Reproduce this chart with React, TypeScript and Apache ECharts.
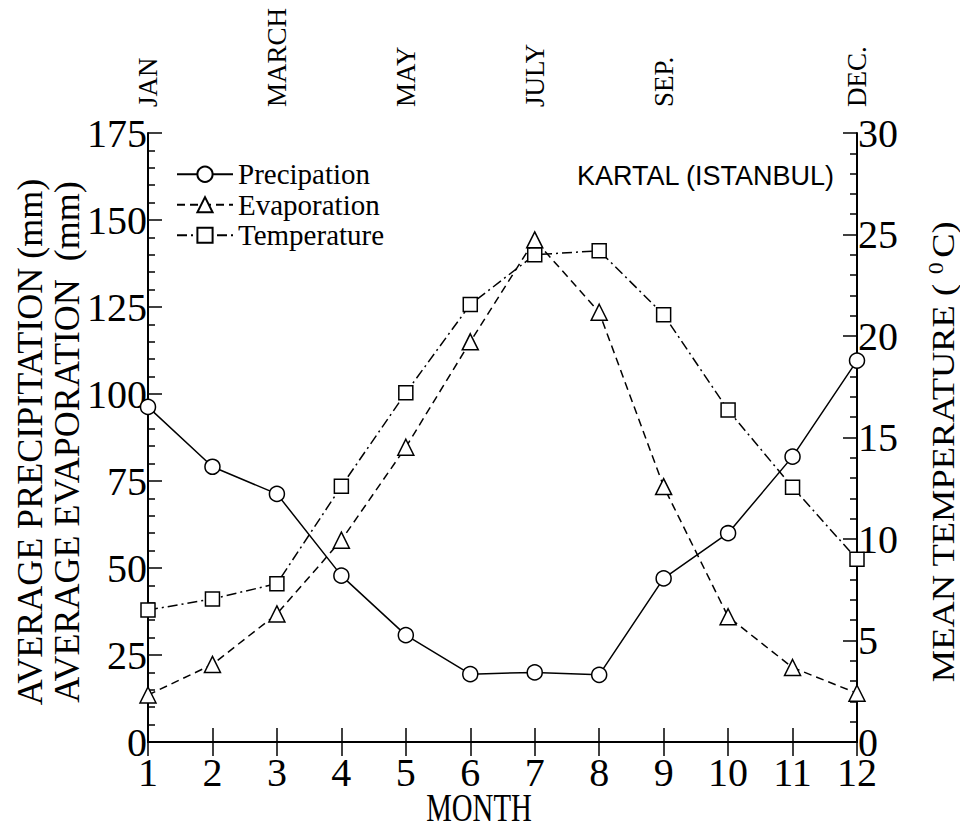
import React, { useEffect, useRef } from "react";
import * as echarts from "echarts";

const months = [1, 2, 3, 4, 5, 6, 7, 8, 9, 10, 11, 12];
const precipitation = [96.3, 79.1, 71.3, 47.8, 30.7, 19.5, 20.0, 19.3, 47.0, 60.0, 82.0, 109.6];
const evaporation = [13.5, 22.3, 36.8, 58.0, 84.7, 115.0, 144.3, 123.5, 73.4, 36.0, 21.4, 14.0];
const temperature = [6.5, 7.05, 7.8, 12.6, 17.2, 21.55, 24.0, 24.2, 21.05, 16.35, 12.55, 9.0];
const topMonthLabels: Record<number, string> = { 1: "JAN", 3: "MARCH", 5: "MAY", 7: "JULY", 9: "SEP.", 12: "DEC." };
const seriesNames = ["Precipation", "Evaporation", "Temperature"];

const SERIF = "'Liberation Serif', 'Times New Roman', serif";
const SANS = "'Liberation Sans', Arial, sans-serif";

export default function App() {
  const ref = useRef<HTMLDivElement>(null);
  useEffect(() => {
    if (!ref.current) return;
    const chart = echarts.init(ref.current, null, { renderer: "svg" });
    const pair = (vals: number[]) => months.map((m, i) => [m, vals[i]]);
    const axisLine = { show: true, lineStyle: { color: "#000", width: 2 } };
    const markerStyle = { color: "#fff", borderColor: "#000", borderWidth: 1.5 };
    chart.setOption({
      animation: false,
      backgroundColor: "#fff",
      grid: { left: 148, right: 103, top: 133, bottom: 90 },
      legend: {
        orient: "vertical",
        left: 171,
        top: 154,
        itemWidth: 56,
        itemHeight: 19,
        itemGap: 0,
        textStyle: { fontFamily: SERIF, fontSize: 29, color: "#000", lineHeight: 30.5 },
        data: seriesNames,
      },
      xAxis: [
        {
          type: "value",
          min: 1,
          max: 12,
          interval: 1,
          position: "bottom",
          axisLine,
          axisTick: { show: true, inside: true, length: 14, lineStyle: { color: "#000", width: 1.5 } },
          axisLabel: { fontFamily: SERIF, fontSize: 40, color: "#000", margin: 10 },
          splitLine: { show: false },
        },
        {
          type: "value",
          min: 1,
          max: 12,
          interval: 1,
          position: "top",
          axisLine,
          axisTick: { show: true, inside: true, length: 14, lineStyle: { color: "#000", width: 1.5 } },
          axisLabel: {
            fontFamily: SERIF,
            fontSize: 27,
            color: "#000",
            rotate: 90,
            margin: 26,
            padding: [0, 0, 0, 0],
            formatter: (v: number) => topMonthLabels[v] || "",
          },
          splitLine: { show: false },
        },
      ],
      yAxis: [
        {
          type: "value",
          min: 0,
          max: 175,
          interval: 25,
          position: "left",
          axisLine,
          axisTick: { show: true, inside: true, length: 14, lineStyle: { color: "#000", width: 1.5 } },
          minorTick: { show: true, splitNumber: 5, length: 7, lineStyle: { color: "#000", width: 1.5 } },
          axisLabel: { fontFamily: SERIF, fontSize: 40, color: "#000", margin: 1 },
          splitLine: { show: false },
        },
        {
          type: "value",
          min: 0,
          max: 30,
          interval: 5,
          position: "right",
          axisLine,
          axisTick: { show: true, inside: true, length: 14, lineStyle: { color: "#000", width: 1.5 } },
          minorTick: { show: true, splitNumber: 5, length: 7, lineStyle: { color: "#000", width: 1.5 } },
          axisLabel: { fontFamily: SERIF, fontSize: 40, color: "#000", margin: 1 },
          splitLine: { show: false },
        },
      ],
      series: [
        {
          name: seriesNames[0],
          type: "line",
          xAxisIndex: 0,
          yAxisIndex: 0,
          data: pair(precipitation),
          symbol: "circle",
          symbolSize: 15,
          clip: false,
          lineStyle: { color: "#000", width: 1.5, type: "solid" },
          itemStyle: markerStyle,
          z: 5,
        },
        {
          name: seriesNames[1],
          type: "line",
          xAxisIndex: 0,
          yAxisIndex: 0,
          data: pair(evaporation),
          symbol: "triangle",
          symbolSize: 16,
          clip: false,
          lineStyle: { color: "#000", width: 1.5, type: [8, 5] },
          itemStyle: markerStyle,
          z: 4,
        },
        {
          name: seriesNames[2],
          type: "line",
          xAxisIndex: 0,
          yAxisIndex: 1,
          data: pair(temperature),
          symbol: "rect",
          symbolSize: 14,
          clip: false,
          lineStyle: { color: "#000", width: 1.5, type: [10, 4, 2, 4] },
          itemStyle: markerStyle,
          z: 3,
        },
      ],
      graphic: [
        {
          type: "text",
          x: 30,
          y: 442,
          rotation: Math.PI / 2,
          style: {
            text: "AVERAGE PRECIPITATION (mm)",
            fontFamily: SERIF,
            fontSize: 36,
            fill: "#000",
            textAlign: "center",
            textVerticalAlign: "middle",
          },
        },
        {
          type: "text",
          x: 67,
          y: 442,
          rotation: Math.PI / 2,
          style: {
            text: "AVERAGE EVAPORATION  (mm)",
            fontFamily: SERIF,
            fontSize: 36,
            fill: "#000",
            textAlign: "center",
            textVerticalAlign: "middle",
          },
        },
        {
          type: "text",
          x: 943,
          y: 452,
          rotation: Math.PI / 2,
          scaleX: 1.14,
          style: {
            text: "MEAN TEMPERATURE ( {sup|0}C)",
            fontFamily: SERIF,
            fontSize: 32,
            fill: "#000",
            textAlign: "center",
            textVerticalAlign: "middle",
            rich: {
              sup: { fontFamily: SERIF, fontSize: 21, fill: "#000", verticalAlign: "top", padding: [0, 4, 14, 0] },
            },
          },
        },
        {
          type: "text",
          x: 479,
          y: 808,
          scaleX: 0.72,
          style: {
            text: "MONTH",
            fontFamily: SERIF,
            fontSize: 40,
            fill: "#000",
            textAlign: "center",
            textVerticalAlign: "middle",
          },
        },
        {
          type: "text",
          x: 834,
          y: 176,
          style: {
            text: "KARTAL (ISTANBUL)",
            fontFamily: SANS,
            fontSize: 27,
            fill: "#000",
            textAlign: "right",
            textVerticalAlign: "middle",
          },
        },
      ],
    });
    return () => chart.dispose();
  }, []);
  return <div ref={ref} style={{ position: "absolute", left: 0, top: 0, width: 960, height: 832 }} />;
}
